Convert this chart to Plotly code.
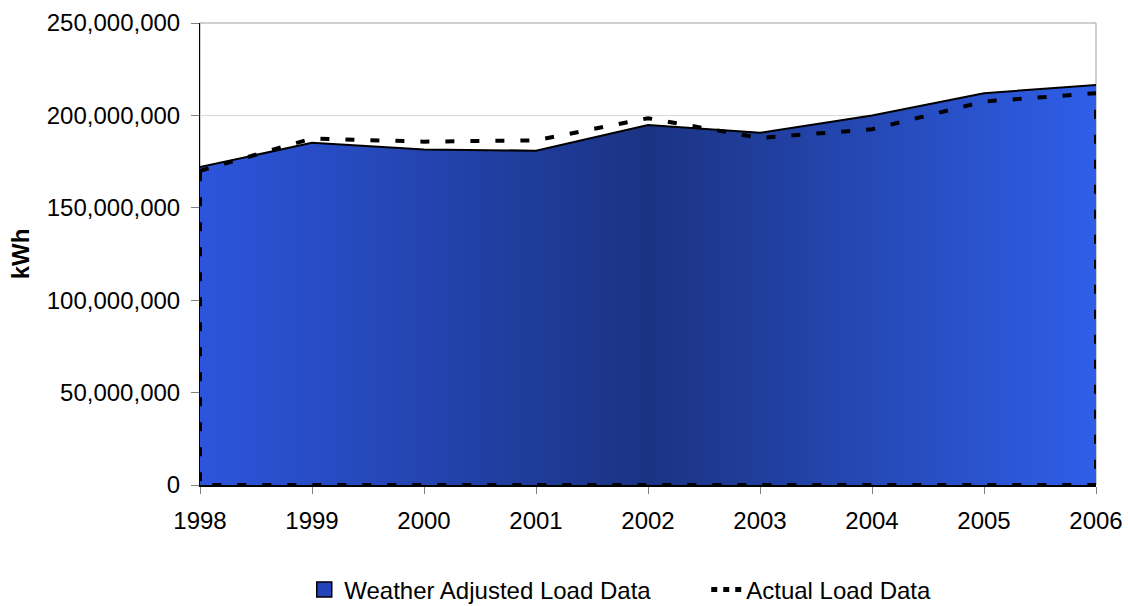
import plotly.graph_objects as go

years = [1998, 1999, 2000, 2001, 2002, 2003, 2004, 2005, 2006]
weather_adjusted = [172.0e6, 185.2e6, 181.6e6, 180.9e6, 194.8e6, 190.6e6, 200.0e6, 212.0e6, 216.5e6]
actual = [170.0e6, 187.5e6, 185.8e6, 186.5e6, 198.5e6, 187.8e6, 192.5e6, 207.5e6, 212.0e6]
y_ticks = [0, 50e6, 100e6, 150e6, 200e6, 250e6]

font_family = "Liberation Sans, Arial, sans-serif"

fig = go.Figure()

fig.add_trace(go.Scatter(
    x=years, y=weather_adjusted, name="Weather Adjusted Load Data",
    mode="lines", line=dict(color="black", width=2),
    fill="tozeroy",
    fillgradient=dict(type="horizontal",
                      colorscale=[[0, "#2c55dc"], [0.5, "#1b3383"], [1, "#2f5ee8"]]),
    fillcolor="#2546b0", showlegend=False,
))

# closed outline of the actual-load area
ax = years + [years[-1], years[0], years[0]]
ay = actual + [0, 0, actual[0]]
fig.add_trace(go.Scatter(
    x=ax, y=ay, name="Actual Load Data",
    mode="lines", line=dict(color="black", width=4, dash="9px,16px"),
    fill="toself", fillcolor="rgba(0,0,0,0)", showlegend=False,
))

# legend-only entries
fig.add_trace(go.Scatter(
    x=[None], y=[None], name="Weather Adjusted Load Data", mode="markers",
    marker=dict(symbol="square", size=15, color="#2443b8", line=dict(color="black", width=1.5)),
))
fig.add_trace(go.Scatter(
    x=[None], y=[None], name="Actual Load Data", mode="lines",
    line=dict(color="black", width=5, dash="6px,6px"),
))

fig.add_shape(type="rect", xref="paper", yref="paper", x0=0, x1=1, y0=0, y1=1,
              line=dict(color="#a0a0a0", width=1), layer="below")

fig.update_layout(
    width=1128, height=606,
    margin=dict(l=200, r=32, t=23, b=121, autoexpand=False),
    paper_bgcolor="white", plot_bgcolor="white",
    font=dict(family=font_family, size=24, color="black"),
    showlegend=True,
    legend=dict(orientation="h", xref="paper", x=0.565, xanchor="center",
                y=-0.227, yanchor="middle", font=dict(size=24),
                traceorder="normal", itemwidth=30, entrywidth=357),
    xaxis=dict(range=[1998, 2006], tickvals=years, ticktext=[str(y) for y in years],
               showgrid=False, zeroline=False, showline=True, linecolor="black", linewidth=2,
               ticks="outside", ticklen=7, tickcolor="#808080", tickfont=dict(size=24),
               tickangle=0, ticklabelstandoff=6),
    yaxis=dict(range=[0, 250e6], tickvals=y_ticks, tickformat=",",
               showgrid=True, gridcolor="#d9d9d9", gridwidth=1, zeroline=False,
               showline=True, linecolor="black", linewidth=1,
               ticks="outside", ticklen=8, tickcolor="#808080", tickfont=dict(size=24),
               ticklabelstandoff=6,
               title=dict(text="<b>kWh</b>", font=dict(size=24), standoff=10)),
)

fig.write_html("out.html")
